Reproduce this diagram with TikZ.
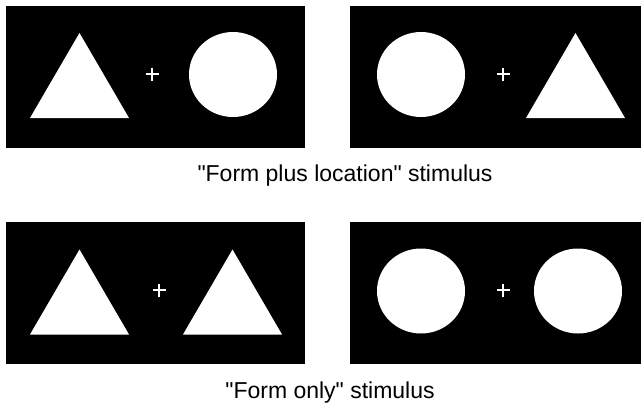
\documentclass[tikz,border=0pt]{standalone}
\usepackage{fontspec}
\setmainfont{Liberation Sans}[Ligatures=TeXOff]
\begin{document}
\begin{tikzpicture}[x=1pt, y=-1pt,
  feld/.style={fill=black},
  form/.style={fill=white},
  kreuz/.style={draw=white, line width=2.8pt},
  schrift/.style={anchor=base, inner sep=0pt, font=\fontsize{23}{28}\selectfont}]
\useasboundingbox (0,0) rectangle (642,405);
% Masse: Kreis (Halbachsen), Dreieck (halbe Breite/Hoehe), Kreuz
\def\rx{44}
\def\ry{42.5}
\def\bw{49.5}
\def\bh{42.5}
\def\kr{6.5}
% Felder
\coordinate (A1) at (6,6);     \coordinate (A2) at (305,148);
\coordinate (B1) at (350,6);   \coordinate (B2) at (641,148);
\coordinate (C1) at (6,222);   \coordinate (C2) at (305,364);
\coordinate (D1) at (350,222); \coordinate (D2) at (641,364);
\fill[feld] (A1) rectangle (A2);
\fill[feld] (B1) rectangle (B2);
\fill[feld] (C1) rectangle (C2);
\fill[feld] (D1) rectangle (D2);
% Dreiecke
\foreach \p in {(79.5,75.5), (575.5,75.5), (79.5,292), (232.5,292)}
  \fill[form, shift={\p}] (0,-\bh) -- (\bw,\bh) -- (-\bw,\bh) -- cycle;
% Kreise
\foreach \p in {(233,74.5), (421,74.5), (421,291), (578,291)}
  \fill[form] \p ellipse [x radius=\rx, y radius=\ry];
% Fixationskreuze
\foreach \p in {(152,74), (503,74), (159,290), (503,290)}
  \draw[kreuz, shift={\p}] (-\kr,0) -- (\kr,0) (0,-\kr) -- (0,\kr);
% Beschriftungen
\node[schrift] (t1) at (345,181) {"Form plus location" stimulus};
\node[schrift] (t2) at (330,398) {"Form only" stimulus};
\end{tikzpicture}
\end{document}
